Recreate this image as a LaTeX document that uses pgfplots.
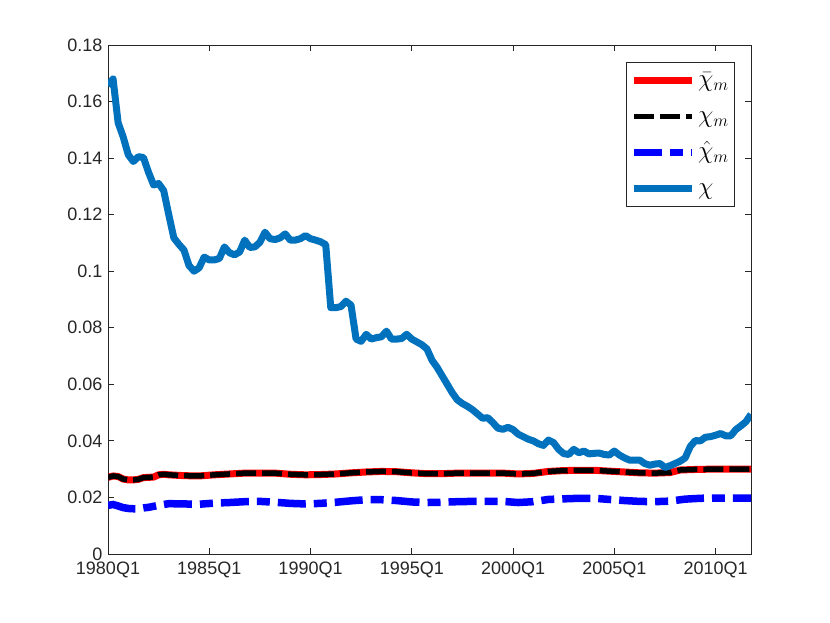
\documentclass[border=0pt]{standalone}
\usepackage{fontspec}
\setmainfont{Liberation Sans}
\usepackage{pgfplots}
\pgfplotsset{compat=1.18}
\definecolor{mblue}{rgb}{0,0.447,0.741}
\definecolor{axgray}{rgb}{0.15,0.15,0.15}
\begin{document}
\begin{tikzpicture}[x=1pt,y=1pt]
\path[use as bounding box] (0,0) rectangle (830,623);
\begin{axis}[
  at={(108pt,69pt)}, anchor=south west,
  scale only axis, width=643pt, height=509pt,
  xmin=0, xmax=127, ymin=0, ymax=0.18,
  xtick={0,20,40,60,80,100,120},
  xticklabels={1980Q1,1985Q1,1990Q1,1995Q1,2000Q1,2005Q1,2010Q1},
  ytick={0,0.02,0.04,0.06,0.08,0.1,0.12,0.14,0.16,0.18},
  yticklabels={0,0.02,0.04,0.06,0.08,0.1,0.12,0.14,0.16,0.18},
  tick align=inside, major tick length=6pt,
  axis line style={axgray, line width=0.8pt},
  every tick/.style={axgray, line width=0.8pt},
  ticklabel style={font=\fontsize{18}{20}\selectfont, text=axgray},
  xticklabel style={yshift=-4pt},
  yticklabel style={xshift=-2pt},
  /pgf/number format/assume math mode=true,
  legend image code/.code={\draw[#1] (0pt,0pt) -- (58pt,0pt);},
  legend cell align=left,
  legend style={at={(1,1)}, anchor=north east, xshift=-16pt, yshift=-17pt,
    draw=axgray, line width=0.8pt, fill=white,
    font=\fontsize{25}{30}\selectfont,
    inner xsep=4pt, inner ysep=2pt, row sep=4pt,
    nodes={inner sep=2pt, text height=20pt, text depth=8pt}},
]
\addplot[red, line width=7pt, line join=round] coordinates {
(0,0.0271)(1,0.0276)(2,0.0274)(3,0.0265)(4,0.0262)(5,0.0262)(6,0.0264)(7,0.0270)(8,0.0271)(9,0.0272)(10,0.0280)(11,0.0282)(12,0.0280)(15,0.0277)(18,0.0276)(21,0.0280)(24,0.0283)(27,0.0286)(30,0.0286)(33,0.0286)(36,0.0282)(39,0.0280)(42,0.0281)(45,0.0283)(48,0.0287)(51,0.0290)(54,0.0292)(57,0.0291)(60,0.0287)(63,0.0284)(66,0.0284)(69,0.0286)(72,0.0286)(75,0.0286)(78,0.0286)(81,0.0283)(84,0.0285)(87,0.0292)(90,0.0295)(93,0.0296)(96,0.0296)(99,0.0293)(102,0.0290)(105,0.0287)(108,0.0286)(111,0.0288)(113,0.0297)(116,0.0299)(119,0.0300)(122,0.0300)(127,0.0300)
};
\addlegendentry{$\bar{\chi}_m$}
\addplot[black, line width=5.5pt, dash pattern=on 20pt off 6pt, line join=round] coordinates {
(0,0.0271)(1,0.0276)(2,0.0274)(3,0.0265)(4,0.0262)(5,0.0262)(6,0.0264)(7,0.0270)(8,0.0271)(9,0.0272)(10,0.0280)(11,0.0282)(12,0.0280)(15,0.0277)(18,0.0276)(21,0.0280)(24,0.0283)(27,0.0286)(30,0.0286)(33,0.0286)(36,0.0282)(39,0.0280)(42,0.0281)(45,0.0283)(48,0.0287)(51,0.0290)(54,0.0292)(57,0.0291)(60,0.0287)(63,0.0284)(66,0.0284)(69,0.0286)(72,0.0286)(75,0.0286)(78,0.0286)(81,0.0283)(84,0.0285)(87,0.0292)(90,0.0295)(93,0.0296)(96,0.0296)(99,0.0293)(102,0.0290)(105,0.0287)(108,0.0286)(111,0.0288)(113,0.0297)(116,0.0299)(119,0.0300)(122,0.0300)(127,0.0300)
};
\addlegendentry{$\chi_m$}
\addplot[blue, line width=7.5pt, dash pattern=on 28pt off 8pt on 13pt off 8pt] coordinates {
(0,0.0172)(1,0.0175)(2,0.0170)(3,0.0164)(4,0.0161)(5,0.0160)(6,0.0160)(7,0.0163)(8,0.0165)(10,0.0172)(12,0.0178)(15,0.0177)(18,0.0176)(21,0.0180)(24,0.0182)(27,0.0185)(30,0.0186)(33,0.0183)(36,0.0179)(39,0.0177)(42,0.0179)(45,0.0183)(48,0.0188)(51,0.0192)(54,0.0192)(57,0.0189)(60,0.0184)(63,0.0182)(66,0.0183)(69,0.0185)(72,0.0186)(75,0.0186)(78,0.0186)(81,0.0182)(84,0.0185)(87,0.0193)(90,0.0195)(93,0.0197)(96,0.0197)(99,0.0193)(102,0.0189)(105,0.0186)(108,0.0185)(111,0.0187)(114,0.0194)(117,0.0197)(120,0.0198)(127,0.0198)
};
\addlegendentry{$\hat{\chi}_m$}
\addplot[mblue, line width=7pt, line join=round] coordinates {
(0,0.1655)(1,0.1680)(2,0.1525)(3,0.1475)(4,0.1412)(5,0.1388)(6,0.1405)(7,0.1402)(8,0.1350)(9,0.1305)(10,0.1310)(11,0.1285)(12,0.1200)(13,0.1118)(14,0.1095)(15,0.1075)(16,0.1020)(17,0.1000)(18,0.1012)(19,0.1050)(20,0.1040)(21,0.1040)(22,0.1045)(23,0.1086)(24,0.1065)(25,0.1058)(26,0.1068)(27,0.1110)(28,0.1084)(29,0.1086)(30,0.1102)(31,0.1138)(32,0.1115)(33,0.1112)(34,0.1118)(35,0.1132)(36,0.1110)(37,0.1110)(38,0.1115)(39,0.1126)(40,0.1115)(41,0.1110)(42,0.1104)(43,0.1094)(44,0.0871)(45,0.0871)(46,0.0875)(47,0.0894)(48,0.0880)(49,0.0760)(50,0.0752)(51,0.0777)(52,0.0760)(53,0.0765)(54,0.0768)(55,0.0788)(56,0.0760)(57,0.0760)(58,0.0762)(59,0.0777)(60,0.0760)(61,0.0750)(62,0.0740)(63,0.0725)(64,0.0685)(65,0.0660)(66,0.0630)(67,0.0600)(68,0.0570)(69,0.0545)(70,0.0532)(71,0.0522)(72,0.0510)(73,0.0495)(74,0.0480)(75,0.0482)(76,0.0465)(77,0.0445)(78,0.0441)(79,0.0448)(80,0.0440)(81,0.0424)(82,0.0415)(83,0.0406)(84,0.0400)(85,0.0390)(86,0.0384)(87,0.0403)(88,0.0394)(89,0.0370)(90,0.0355)(91,0.0352)(92,0.0370)(93,0.0358)(94,0.0364)(95,0.0354)(96,0.0356)(97,0.0357)(98,0.0352)(99,0.0350)(100,0.0364)(101,0.0350)(102,0.0340)(103,0.0332)(104,0.0332)(105,0.0332)(106,0.0320)(107,0.0314)(108,0.0318)(109,0.0320)(110,0.0306)(111,0.0312)(112,0.0320)(113,0.0328)(114,0.0340)(115,0.0380)(116,0.0401)(117,0.0400)(118,0.0413)(119,0.0415)(120,0.0420)(121,0.0426)(122,0.0418)(123,0.0418)(124,0.0440)(125,0.0453)(126,0.0468)(127,0.0494)
};
\addlegendentry{$\chi$}
\end{axis}
\end{tikzpicture}
\end{document}
